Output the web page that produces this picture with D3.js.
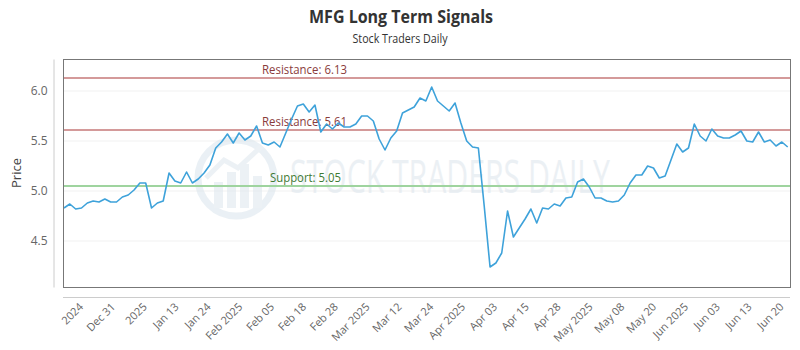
<!DOCTYPE html>
<html>
<head>
<meta charset="utf-8">
<script src="https://cdn.jsdelivr.net/npm/d3@7"></script>
<style>
  body { margin: 0; background: #fff; }
  svg { display: block; font-family: "Open Sans", sans-serif; }
</style>
</head>
<body>
<div id="chart"></div>
<script>
// MFG long term signals, daily closes.

var prices = [
    4.83, 4.87, 4.82, 4.83, 4.88, 4.90, 4.89, 4.92, 4.89, 4.89,
    4.94, 4.96, 5.01, 5.08, 5.08, 4.83, 4.88, 4.90, 5.18, 5.10,
    5.08, 5.19, 5.08, 5.12, 5.18, 5.26, 5.43, 5.49, 5.57, 5.48,
    5.58, 5.51, 5.55, 5.65, 5.48, 5.46, 5.49, 5.44, 5.58, 5.72,
    5.85, 5.87, 5.79, 5.86, 5.59, 5.67, 5.62, 5.68, 5.64, 5.64,
    5.67, 5.75, 5.75, 5.70, 5.52, 5.41, 5.53, 5.60, 5.78, 5.81,
    5.84, 5.93, 5.90, 6.04, 5.90, 5.85, 5.80, 5.88, 5.68, 5.50,
    5.44, 5.43, 4.85, 4.24, 4.28, 4.38, 4.80, 4.54, 4.63, 4.72,
    4.82, 4.68, 4.83, 4.82, 4.87, 4.85, 4.93, 4.94, 5.09, 5.12,
    5.04, 4.93, 4.93, 4.90, 4.89, 4.90, 4.96, 5.08, 5.16, 5.16,
    5.25, 5.23, 5.13, 5.15, 5.31, 5.47, 5.39, 5.43, 5.67, 5.55,
    5.50, 5.62, 5.55, 5.53, 5.53, 5.56, 5.60, 5.50, 5.49, 5.59,
    5.49, 5.51, 5.45, 5.49, 5.44
];

var xLabels = ["2024", "Dec 31", "2025", "Jan 13", "Jan 24", "Feb 2025", "Feb 05",
    "Feb 18", "Feb 28", "Mar 2025", "Mar 12", "Mar 24", "Apr 2025", "Apr 03",
    "Apr 15", "Apr 28", "May 2025", "May 08", "May 20", "Jun 2025", "Jun 03",
    "Jun 13", "Jun 20"];

var yTicks = [4.5, 5.0, 5.5, 6.0];

var levelNames = ["Resistance", "Resistance", "Support"];
var levelValues = [6.13, 5.61, 5.05];

var W = 800, H = 350;
var plot = {left: 63, top: 59, right: 790, bottom: 287};

/**
  * Creates the svg object to draw on.
  */
function createGraph(elementId, w, h){
    return d3.select("#" + elementId)
        .append("svg")
        .attr("width", w)
        .attr("height", h)
        .style("background-color", "white");
}

var svg = createGraph("chart", W, H);

var x = d3.scaleLinear().domain([0, prices.length - 1]).range([64, 787.7]);
var y = d3.scaleLinear().domain([4.04, 6.32]).range([plot.bottom, plot.top]);

// titles
svg.append("text")
    .attr("x", 401).attr("y", 23)
    .attr("text-anchor", "middle")
    .attr("textLength", 184).attr("lengthAdjust", "spacingAndGlyphs")
    .style("font-size", "18px").style("font-weight", "bold").style("fill", "#333")
    .text("MFG Long Term Signals");
svg.append("text")
    .attr("x", 400).attr("y", 43)
    .attr("text-anchor", "middle")
    .attr("textLength", 95).attr("lengthAdjust", "spacingAndGlyphs")
    .style("font-size", "12px").style("fill", "#333")
    .text("Stock Traders Daily");

// grid lines
svg.append("g").selectAll("line")
    .data(yTicks)
    .enter().append("line")
    .attr("x1", plot.left).attr("x2", plot.right)
    .attr("y1", function(d){ return y(d); })
    .attr("y2", function(d){ return y(d); })
    .attr("stroke", "#f1f1f1");

// watermark logo and text
var wm = svg.append("g").style("opacity", 0.5);
wm.append("circle")
    .attr("cx", 236).attr("cy", 178).attr("r", 38)
    .attr("fill", "none").attr("stroke", "#d7e3ec").attr("stroke-width", 7);
[[214, 182, 9, 26], [227, 172, 9, 36], [240, 164, 9, 44], [253, 176, 9, 32]].forEach(function(b){
    wm.append("rect")
        .attr("x", b[0]).attr("y", b[1]).attr("width", b[2]).attr("height", b[3])
        .attr("fill", "#dbe5ed");
});
wm.append("path")
    .attr("d", "M206,178 L224,160 L238,168 L262,146")
    .attr("fill", "none").attr("stroke", "#dbe5ed").attr("stroke-width", 5);
wm.append("text")
    .attr("x", 290).attr("y", 193)
    .attr("textLength", 320).attr("lengthAdjust", "spacingAndGlyphs")
    .style("font-size", "46px").style("fill", "#d9e3eb")
    .text("STOCK TRADERS DAILY");

// support and resistance lines
var levelColor = ["#d49a9a", "#d49a9a", "#9fd49f"];
var textColor = ["#8a3b3b", "#8a3b3b", "#3f7a34"];
var labelX = [262, 262, 270];
var labelW = [85, 85, 71];
levelValues.forEach(function(v, i){
    svg.append("line")
        .attr("x1", plot.left).attr("x2", plot.right)
        .attr("y1", y(v)).attr("y2", y(v))
        .attr("stroke", levelColor[i]).attr("stroke-width", 2);
    svg.append("text")
        .attr("x", labelX[i]).attr("y", y(v) - 4)
        .attr("textLength", labelW[i]).attr("lengthAdjust", "spacingAndGlyphs")
        .style("font-size", "12px").style("fill", textColor[i])
        .text(levelNames[i] + ": " + v.toFixed(2));
});

// price line
var line = d3.line()
    .x(function(d, i){ return x(i); })
    .y(function(d){ return y(d); });
svg.append("path")
    .datum(prices)
    .attr("d", line)
    .attr("fill", "none")
    .attr("stroke", "#3ea2da")
    .attr("stroke-width", 1.6)
    .attr("stroke-linejoin", "round");

// plot border
svg.append("rect")
    .attr("x", plot.left + 0.5).attr("y", plot.top + 0.5)
    .attr("width", plot.right - plot.left).attr("height", plot.bottom - plot.top)
    .attr("fill", "none").attr("stroke", "#777").attr("stroke-width", 1);

// y axis
var yAxis = svg.append("g")
    .attr("transform", "translate(53.5,0)")
    .call(d3.axisLeft(y).tickValues(yTicks).tickFormat(d3.format(".1f"))
        .tickSize(0).tickPadding(6));
yAxis.select(".domain").attr("stroke", "#ccc");
yAxis.selectAll("text").style("font-size", "12px").style("fill", "#666")
    .style("font-family", "Open Sans");

svg.append("text")
    .attr("transform", "translate(21," + ((plot.top + plot.bottom) / 2) + ") rotate(-90)")
    .attr("text-anchor", "middle")
    .style("font-size", "13px").style("fill", "#444")
    .text("Price");

// x axis, labels spread between index 3 and 123
var tickIdx = xLabels.map(function(d, k){ return 3 + k * 120 / (xLabels.length - 1); });
var xAxis = svg.append("g")
    .attr("transform", "translate(0,297.5)")
    .call(d3.axisBottom(x).tickValues(tickIdx)
        .tickFormat(function(d, k){ return xLabels[k]; })
        .tickSize(0));
xAxis.select(".domain").attr("stroke", "#ccc").attr("d", "M63,0H790");
xAxis.selectAll("text")
    .attr("y", 0).attr("dy", 0)
    .attr("transform", "translate(2,10) rotate(-45)")
    .style("text-anchor", "end")
    .style("font-size", "11px").style("fill", "#666")
    .style("font-family", "Open Sans");
</script>
</body>
</html>
